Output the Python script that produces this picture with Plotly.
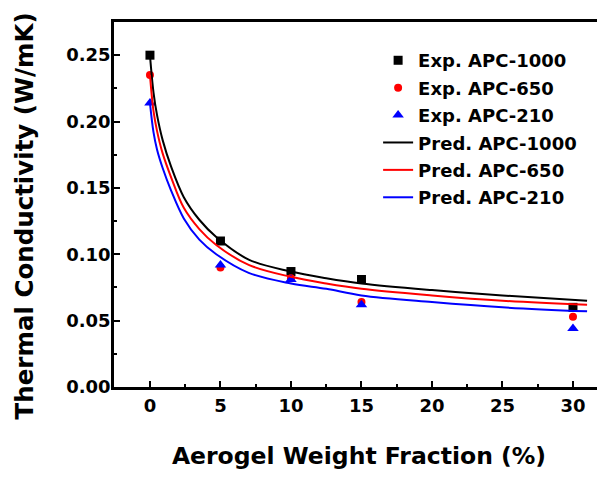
import plotly.graph_objects as go

# experimental points (aerogel wt% vs thermal conductivity W/mK)
exp_x = [0, 5, 10, 15, 30]
exp_1000 = [0.250, 0.110, 0.087, 0.081, 0.060]
exp_650 = [0.235, 0.090, 0.082, 0.064, 0.053]
exp_210 = [0.214, 0.092, 0.081, 0.062, 0.044]

# predicted curves
pred_x = [0, 0.25, 0.5, 0.9, 1.5, 2.4, 3.5, 4.7, 7, 10, 12.5, 15, 20, 25, 31]
pred_1000 = [0.250, 0.222, 0.205, 0.186, 0.166, 0.143, 0.126, 0.113, 0.096, 0.087, 0.082, 0.078, 0.073, 0.069, 0.065]
pred_650 = [0.235, 0.208, 0.193, 0.176, 0.158, 0.135, 0.119, 0.107, 0.092, 0.083, 0.078, 0.074, 0.069, 0.065, 0.062]
pred_210 = [0.214, 0.192, 0.179, 0.165, 0.148, 0.127, 0.111, 0.100, 0.086, 0.078, 0.074, 0.069, 0.064, 0.060, 0.057]

font_fam = "DejaVu Sans"

fig = go.Figure()

markers = [
    ("Exp. APC-1000", exp_1000, "black", "square", 9),
    ("Exp. APC-650", exp_650, "red", "circle", 8),
    ("Exp. APC-210", exp_210, "blue", "triangle-up", 10),
]
for i, (name, ys, col, sym, sz) in enumerate(markers):
    fig.add_trace(go.Scatter(x=exp_x, y=ys, mode="markers", name=name,
                             legendgroup="g%d" % i,
                             marker=dict(color=col, symbol=sym, size=sz)))

lines = [
    ("Pred. APC-1000", pred_1000, "black"),
    ("Pred. APC-650", pred_650, "red"),
    ("Pred. APC-210", pred_210, "blue"),
]
for i, (name, ys, col) in enumerate(lines):
    fig.add_trace(go.Scatter(x=pred_x, y=ys, mode="lines", name=name,
                             legendgroup="l%d" % i,
                             line=dict(color=col, width=2, shape="spline")))

axis_common = dict(
    showline=True, linecolor="black", linewidth=2.5, mirror=True,
    ticks="inside", ticklen=6, tickwidth=2, tickcolor="black",
    showgrid=False, zeroline=False, automargin=False,
    tickfont=dict(family=font_fam, size=18, color="black", weight="bold"),
)

fig.update_xaxes(range=[-2.55, 32.2], tickvals=[0, 5, 10, 15, 20, 25, 30],
                 minor=dict(ticks="inside", ticklen=3, tickwidth=2, tickcolor="black", dtick=2.5, tick0=0),
                 title=dict(text="Aerogel Weight Fraction (%)", standoff=33,
                            font=dict(family=font_fam, size=23.5, color="black", weight="bold")),
                 ticklabelstandoff=1,
                 **axis_common)
fig.update_yaxes(range=[0, 0.275], tickvals=[0, 0.05, 0.10, 0.15, 0.20, 0.25], tickformat=".2f",
                 minor=dict(ticks="inside", ticklen=3, tickwidth=2, tickcolor="black", dtick=0.025, tick0=0),
                 ticklabelstandoff=-3,
                 **axis_common)

# y title as a rotated annotation so it can sit a bit below the plot centre like the original
fig.add_annotation(text="Thermal Conductivity (W/mK)", textangle=-90,
                   xref="paper", yref="paper", x=-0.1837, y=0.470,
                   xanchor="center", yanchor="middle", showarrow=False,
                   font=dict(family=font_fam, size=24.5, color="black", weight="bold"))

# the page body adds an 8px margin, so the figure is sized to fit inside the window
fig.update_layout(
    width=597, height=469,
    margin=dict(l=106, r=1, t=14, b=90),
    paper_bgcolor="white", plot_bgcolor="white",
    legend=dict(x=0.539, y=0.945, xanchor="left", yanchor="top",
                bgcolor="rgba(0,0,0,0)", traceorder="grouped", tracegroupgap=1,
                font=dict(family=font_fam, size=18, color="black", weight="bold")),
)

fig.write_html("out.html")
